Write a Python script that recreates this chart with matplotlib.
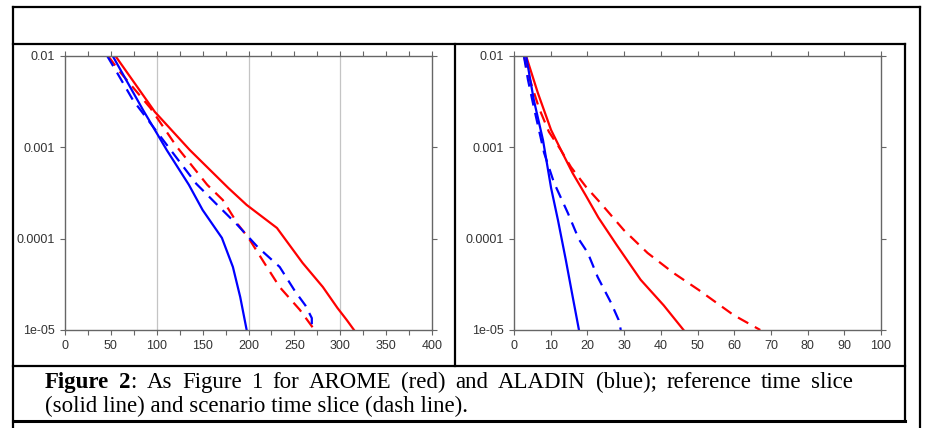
import matplotlib
matplotlib.use('Agg')
import matplotlib.pyplot as plt
from matplotlib.lines import Line2D

# ---- data ----
# left panel
left_arome_ref_x = [55, 98, 136, 178, 198, 231, 259, 281, 297, 307, 315]
left_arome_ref_y = [1e-2, 2.44e-3, 9.35e-4, 3.59e-4, 2.34e-4, 1.31e-4, 5.42e-5, 2.96e-5, 1.74e-5, 1.29e-5, 1e-5]
left_arome_scen_x = [47, 60, 93, 122, 155, 172, 189, 200, 220, 234, 256, 272]
left_arome_scen_y = [1e-2, 6.68e-3, 2.7e-3, 1.01e-3, 3.89e-4, 2.65e-4, 1.41e-4, 1.02e-4, 4.9e-5, 2.95e-5, 1.66e-5, 1e-5]
left_aladin_ref_x = [52, 85, 111, 135, 150, 171, 183, 191, 198]
left_aladin_ref_y = [1e-2, 2.57e-3, 9.3e-4, 3.89e-4, 2.06e-4, 1.02e-4, 4.9e-5, 2.29e-5, 1e-5]
left_aladin_scen_x = [46, 57, 74, 107, 143, 166, 188, 210, 234, 251, 262, 269, 269]
left_aladin_scen_y = [1e-2, 6.5e-3, 3.3e-3, 1.2e-3, 4.0e-4, 2.34e-4, 1.41e-4, 8.1e-5, 4.9e-5, 2.63e-5, 1.86e-5, 1.35e-5, 1e-5]

# right panel
right_arome_ref_x = [3.3, 6.5, 10.1, 13.0, 16.0, 19.5, 23.0, 28.0, 34.5, 40.8, 46.2]
right_arome_ref_y = [1e-2, 3.94e-3, 1.55e-3, 9.0e-4, 5.2e-4, 3.0e-4, 1.7e-4, 8.5e-5, 3.55e-5, 1.86e-5, 1e-5]
right_arome_scen_x = [2.7, 4.1, 6.8, 9.5, 12.8, 15.5, 19.6, 23.6, 29.9, 36.4, 43.5, 50.3, 59.8, 67.1]
right_arome_scen_y = [1e-2, 5.9e-3, 2.7e-3, 1.48e-3, 9.3e-4, 6.1e-4, 3.7e-4, 2.45e-4, 1.245e-4, 6.97e-5, 4.2e-5, 2.75e-5, 1.46e-5, 1e-5]
right_aladin_ref_x = [3.3, 5.4, 7.9, 10.1, 12.0, 14.1, 16.0, 17.7]
right_aladin_ref_y = [1e-2, 3.3e-3, 1.2e-3, 3.6e-4, 1.58e-4, 5.9e-5, 2.3e-5, 1e-5]
right_aladin_scen_x = [2.7, 3.8, 5.4, 8.2, 10.9, 14.7, 17.7, 20.1, 22.8, 26.4, 28.5, 29.1]
right_aladin_scen_y = [1e-2, 5.5e-3, 2.75e-3, 8.7e-4, 4.1e-4, 1.9e-4, 9.8e-5, 7.0e-5, 3.8e-5, 2.0e-5, 1.29e-5, 1e-5]

y_ticks = [1e-2, 1e-3, 1e-4, 1e-5]
y_labels = ['0.01', '0.001', '0.0001', '1e-05']

caption1 = [[('Figure', 'bold')], [('2', 'bold'), (':', 'normal')], [('As', 'normal')],
            [('Figure', 'normal')], [('1', 'normal')], [('for', 'normal')], [('AROME', 'normal')],
            [('(red)', 'normal')], [('and', 'normal')], [('ALADIN', 'normal')], [('(blue);', 'normal')],
            [('reference', 'normal')], [('time', 'normal')], [('slice', 'normal')]]
caption2 = '(solid line) and scenario time slice (dash line).'

# ---- figure ----
W, H = 925, 428
fig = plt.figure(figsize=(W / 100, H / 100), dpi=100)
fig.patch.set_facecolor('white')


def fx(x):
    return x / W


def fy(y):
    return 1 - y / H


def line(x0, y0, x1, y1, lw=1.6):
    fig.add_artist(Line2D([fx(x0), fx(x1)], [fy(y0), fy(y1)], color='black', lw=lw,
                          transform=fig.transFigure, solid_capstyle='projecting'))


RED = '#ff0000'
BLUE = '#0000ff'
DASH = (0, (5.3, 3.4))
LW = 1.6
SPINE = '#666666'


def setup(ax, xmax, step, minor, grid):
    ax.set_yscale('log')
    ax.set_xlim(0, xmax)
    ax.set_ylim(1e-5, 1e-2)
    ax.set_yticks(y_ticks, y_labels)
    ax.yaxis.set_minor_locator(matplotlib.ticker.NullLocator())
    ticks = list(range(0, xmax + 1, minor))
    ax.set_xticks(ticks, [str(t) if t % step == 0 else '' for t in ticks])
    ax.tick_params(direction='out', top=True, right=True, length=3.5, width=0.8,
                   color=SPINE, pad=3.5, labelsize=9, labelcolor='#333333',
                   labelfontfamily='Liberation Sans')
    for s in ax.spines.values():
        s.set_color(SPINE)
        s.set_linewidth(1.0)
    if grid:
        for g in grid:
            ax.axvline(g, color='#c4c4c4', lw=0.9, zorder=0)


ax1 = fig.add_axes([fx(65), fy(330), (432 - 65) / W, (330 - 56) / H])
setup(ax1, 400, 50, 25, [100, 200, 300])
ax1.plot(left_arome_ref_x, left_arome_ref_y, color=RED, lw=LW)
ax1.plot(left_arome_scen_x, left_arome_scen_y, color=RED, lw=LW, ls=DASH)
ax1.plot(left_aladin_ref_x, left_aladin_ref_y, color=BLUE, lw=LW)
ax1.plot(left_aladin_scen_x, left_aladin_scen_y, color=BLUE, lw=LW, ls=DASH)

ax2 = fig.add_axes([fx(514), fy(330), (881 - 514) / W, (330 - 56) / H])
setup(ax2, 100, 10, 10, None)
ax2.plot(right_arome_ref_x, right_arome_ref_y, color=RED, lw=LW)
ax2.plot(right_arome_scen_x, right_arome_scen_y, color=RED, lw=LW, ls=DASH)
ax2.plot(right_aladin_ref_x, right_aladin_ref_y, color=BLUE, lw=LW)
ax2.plot(right_aladin_scen_x, right_aladin_scen_y, color=BLUE, lw=LW, ls=DASH)

# ---- document frame lines ----
line(13, 7, 920, 7)
line(13, 7, 13, 428)
line(920, 7, 920, 428)
line(13, 44, 905, 44)
line(905, 44, 905, 421)
line(455, 44, 455, 366)
line(13, 366, 905, 366)
line(13, 421, 905, 421, lw=2.2)

# ---- caption, first line justified ----
CAP = 16.5
renderer = fig.canvas.get_renderer()
widths = []
for word in caption1:
    w = 0
    for seg, weight in word:
        t = fig.text(0, 0, seg, fontsize=CAP, family='Liberation Serif', fontweight=weight)
        w += t.get_window_extent(renderer).width
        t.remove()
    widths.append(w)
x0, x1 = 45, 853
gap = (x1 - x0 - sum(widths)) / (len(widths) - 1)
x = x0
for word, w in zip(caption1, widths):
    xs = x
    for seg, weight in word:
        t = fig.text(fx(xs), fy(388), seg, fontsize=CAP, family='Liberation Serif',
                     fontweight=weight, va='baseline')
        xs += t.get_window_extent(renderer).width
    x += w + gap
fig.text(fx(45), fy(412), caption2, fontsize=CAP, family='Liberation Serif', va='baseline')

fig.savefig('out.png', dpi=100)
